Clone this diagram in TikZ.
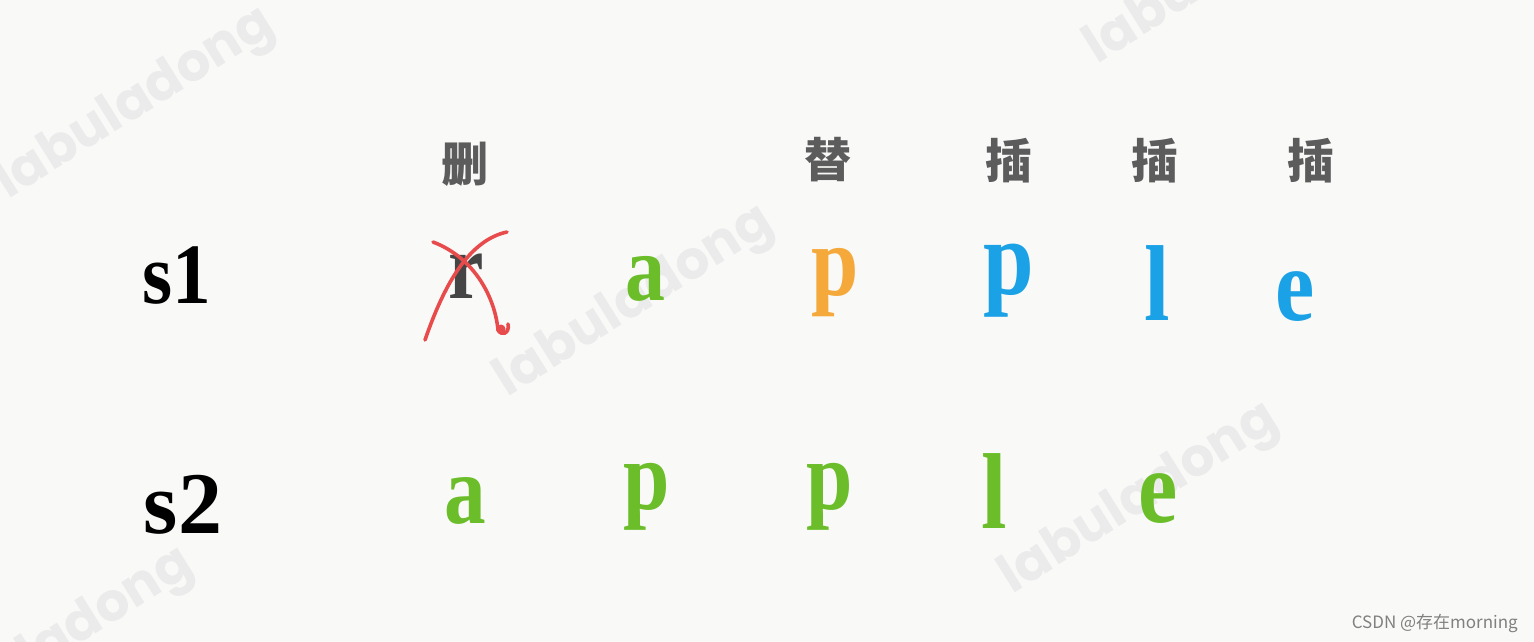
\documentclass[tikz,border=0pt]{standalone}
\usepackage{fontspec}
\setmainfont{Liberation Serif}
\newfontfamily\cjk{Noto Sans CJK SC}
\newfontfamily\wmfont{Poppins}
\newcommand\fsz[1]{\fontsize{#1}{#1}\selectfont\bfseries}
\newcommand\nrw[1]{\scalebox{0.85}[1]{#1}}
\definecolor{bgc}{HTML}{F9F9F8}
\definecolor{wmc}{HTML}{EBEBEB}
\definecolor{gre}{HTML}{6BBE2A}
\definecolor{ora}{HTML}{F5A93A}
\definecolor{blu}{HTML}{1BA1E6}
\definecolor{redx}{HTML}{E84B4B}
\definecolor{grytxt}{HTML}{5C5C5C}
\definecolor{rgray}{HTML}{454545}
\definecolor{csdn}{HTML}{808080}
\begin{document}
\begin{tikzpicture}[x=1pt,y=-1pt,
  lt/.style={inner sep=0pt, anchor=base},
  op/.style={inner sep=0pt, anchor=center, text=grytxt, font=\cjk\fontsize{47}{47}\selectfont\bfseries},
  wm/.style={inner sep=0pt, text=wmc, rotate=32, font=\wmfont\fontsize{53}{53}\selectfont\bfseries},
  xstroke/.style={draw=redx, line width=3.6pt, line cap=round}]
\fill[bgc] (0,0) rectangle (1534,642);
\useasboundingbox (0,0) rectangle (1534,642);
% watermarks
\node[wm] (w1) at (136,105) {labuladong};
\node[wm] (w2) at (635,303) {labuladong};
\node[wm] (w3) at (1140,500) {labuladong};
\node[wm] (w4) at (1225,-30) {labuladong};
\node[wm] (w5) at (55,645) {labuladong};
% row labels
\node[lt, font=\fsz{86}] (s1) at (177,303) {\scalebox{0.9}[1]{s1}};
\node[lt, font=\fsz{88}] (s2) at (183,533) {s2};
% operation labels
\node[op] (o1) at (465,164) {删};
\node[op] (o2) at (828,160) {替};
\node[op] (o3) at (1009,161) {插};
\node[op] (o4) at (1155,161) {插};
\node[op] (o5) at (1311,161) {插};
% row 1
\node[lt, font=\fsz{94}, text=rgray] (r1) at (466,298) {\nrw{r}};
\node[lt, font=\fsz{94}, text=gre] (a1) at (645,300) {\nrw{a}};
\node[lt, font=\fsz{100}, text=ora] (p1) at (835,295) {\nrw{p}};
\node[lt, font=\fsz{107}, text=blu] (p1b) at (1009,294) {\nrw{p}};
\node[lt, font=\fsz{108}, text=blu] (l1) at (1157,320) {\nrw{l}};
\node[lt, font=\fsz{104}, text=blu] (e1) at (1295,320) {\nrw{e}};
% row 2
\node[lt, font=\fsz{98}, text=gre] (a2) at (465,523) {\nrw{a}};
\node[lt, font=\fsz{98}, text=gre] (p2) at (647,509) {\nrw{p}};
\node[lt, font=\fsz{98}, text=gre] (p2b) at (830,509) {\nrw{p}};
\node[lt, font=\fsz{108}, text=gre] (l2) at (994,528) {\nrw{l}};
\node[lt, font=\fsz{104}, text=gre] (e2) at (1158,522) {\nrw{e}};
% red cross over r
\coordinate (xa0) at (433,242);
\coordinate (xa1) at (498,330);
\coordinate (xa2) at (508,324);
\coordinate (xb0) at (425,340);
\coordinate (xb1) at (507,232);
\draw[xstroke] (xa0) .. controls (475,258) and (495,298) .. (xa1)
  .. controls (501,336) and (510,334) .. (xa2);
\fill[redx] (501,329) circle (4.5pt);
\draw[xstroke] (xb0) .. controls (445,282) and (470,240) .. (xb1);
% credit
\node[inner sep=0pt, anchor=east, text=csdn, font=\cjk\fontsize{17}{17}\selectfont] (cr) at (1518,623) {CSDN @存在morning};
\end{tikzpicture}
\end{document}
